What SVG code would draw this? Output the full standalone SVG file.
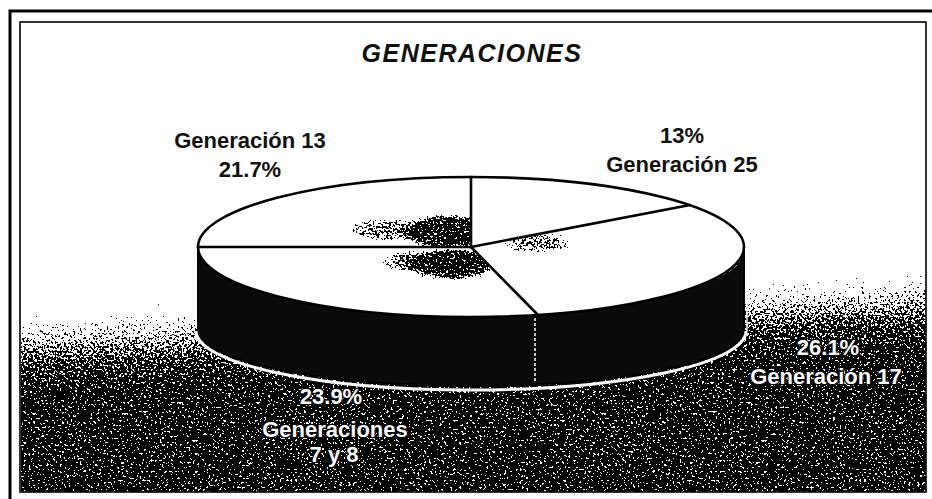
<svg xmlns="http://www.w3.org/2000/svg" width="932" height="499" viewBox="0 0 932 499">
  <style>
    .lbl { font-family: "Liberation Sans", Arial, sans-serif; font-weight: bold; font-size: 22px; text-anchor: middle; }
    .dark { fill: #111111; }
    .light { fill: #ffffff; stroke: #000000; stroke-width: 2.4px; paint-order: stroke; stroke-linejoin: round; }
    .title { font-family: "Liberation Sans", Arial, sans-serif; font-weight: bold; font-style: italic; font-size: 25px; letter-spacing: 1.5px; text-anchor: middle; fill: #111111; }
    .edge { fill: none; stroke: #000000; stroke-width: 2.6; stroke-linecap: round; }
  </style>
  <defs>
    <filter id="dither" filterUnits="userSpaceOnUse" x="0" y="0" width="932" height="499" color-interpolation-filters="sRGB">
      <feTurbulence type="fractalNoise" baseFrequency="0.45" numOctaves="2" seed="7" result="noise"/>
      <feColorMatrix in="noise" type="matrix" values="0 0 0 0 0  0 0 0 0 0  0 0 0 0 0  1 0 0 0 0" result="na"/>
      <feComposite in="SourceAlpha" in2="na" operator="arithmetic" k1="0" k2="1.75" k3="3" k4="-2.3" result="m"/>
      <feComponentTransfer in="m">
        <feFuncA type="discrete" tableValues="0 1"/>
      </feComponentTransfer>
    </filter>
    <linearGradient id="bgGrad" gradientUnits="userSpaceOnUse" x1="466" y1="256" x2="474" y2="426">
      <stop offset="0" stop-color="#000" stop-opacity="0"/>
      <stop offset="0.18" stop-color="#000" stop-opacity="0.05"/>
      <stop offset="0.3" stop-color="#000" stop-opacity="0.4"/>
      <stop offset="0.4" stop-color="#000" stop-opacity="0.65"/>
      <stop offset="0.52" stop-color="#000" stop-opacity="0.88"/>
      <stop offset="0.7" stop-color="#000" stop-opacity="1"/>
      <stop offset="1" stop-color="#000" stop-opacity="1"/>
    </linearGradient>
    <radialGradient id="patch" cx="0.5" cy="0.5" r="0.5">
      <stop offset="0" stop-color="#000" stop-opacity="1"/>
      <stop offset="0.7" stop-color="#000" stop-opacity="0.95"/>
      <stop offset="1" stop-color="#000" stop-opacity="0"/>
    </radialGradient>
    <radialGradient id="patchLight" cx="0.5" cy="0.5" r="0.5">
      <stop offset="0" stop-color="#000" stop-opacity="0.8"/>
      <stop offset="0.6" stop-color="#000" stop-opacity="0.6"/>
      <stop offset="1" stop-color="#000" stop-opacity="0"/>
    </radialGradient>
    <clipPath id="clipA"><polygon points="198,170 471,170 471,247 198,247"/></clipPath>
    <clipPath id="clipB"><polygon points="198,247 471,247 538,315 198,315"/></clipPath>
    <clipPath id="clipC"><polygon points="471,247 690,205 744,247 744,320 538,315"/></clipPath>
  </defs>

  <rect x="0" y="0" width="932" height="499" fill="#ffffff"/>

  <g id="background" filter="url(#dither)">
    <rect x="21" y="23" width="905" height="469" fill="url(#bgGrad)"/>
  </g>

  <g id="pie">
    <g id="side">
      <path d="M198,247 L198,330 A273,56 0 0 0 744,330 L744,247 A273,70 0 0 1 198,247 Z" fill="#0a0a0a" stroke="#000" stroke-width="2"/>
      <path d="M196,331 A275,59 0 0 0 746,331" fill="none" stroke="#ffffff" stroke-width="3"/>
      <path d="M747,250 L747,331" fill="none" stroke="#ffffff" stroke-width="1.5"/>
      <path d="M205,262 A273,66 0 0 0 740,262" fill="none" stroke="#ffffff" stroke-width="1" stroke-dasharray="4 3" opacity="0.7"/>
      <line x1="535" y1="318" x2="535" y2="383" stroke="#ffffff" stroke-width="1.5" stroke-dasharray="3 2"/>
    </g>
    <g id="top">
      <ellipse cx="471" cy="247" rx="273" ry="70" fill="#ffffff"/>
      <g id="shading" filter="url(#dither)">
        <g clip-path="url(#clipA)">
          <ellipse cx="448" cy="232" rx="52" ry="20" fill="url(#patch)"/>
          <ellipse cx="385" cy="230" rx="45" ry="15" fill="url(#patchLight)"/>
        </g>
        <g clip-path="url(#clipB)">
          <ellipse cx="452" cy="264" rx="50" ry="18" fill="url(#patch)"/>
          <ellipse cx="405" cy="262" rx="30" ry="14" fill="url(#patchLight)"/>
        </g>
        <g clip-path="url(#clipC)">
          <ellipse cx="537" cy="243" rx="45" ry="13" fill="url(#patchLight)"/>
        </g>
      </g>
      <ellipse cx="471" cy="247" rx="273" ry="70" class="edge"/>
    </g>
    <g id="slices">
      <path id="slice-gen25" d="M471,247 L471,177" class="edge"/>
      <path id="slice-gen17" d="M471,247 L690,205" class="edge"/>
      <path id="slice-gen78" d="M471,247 L538,315" class="edge"/>
      <path id="slice-gen13" d="M471,247 L198,247" class="edge"/>
    </g>
  </g>

  <g id="labels">
    <text class="title" x="472" y="62">GENERACIONES</text>
    <g id="label-gen13">
      <text class="lbl dark" x="250" y="148">Generación 13</text>
      <text class="lbl dark" x="250" y="177">21.7%</text>
    </g>
    <g id="label-gen25">
      <text class="lbl dark" x="682" y="143">13%</text>
      <text class="lbl dark" x="682" y="172">Generación 25</text>
    </g>
    <g id="label-gen17">
      <text class="lbl light" x="828" y="355">26.1%</text>
      <text class="lbl light" x="826" y="384">Generación 17</text>
    </g>
    <g id="label-gen78">
      <text class="lbl light" x="331" y="404">23.9%</text>
      <text class="lbl light" x="335" y="437">Generaciones</text>
      <text class="lbl light" x="334" y="462">7 y 8</text>
    </g>
  </g>

  <g id="frame" fill="none" stroke="#000">
    <path d="M10,499 L10,11 L932,11" stroke-width="3"/>
    <rect x="20" y="22" width="906" height="470" stroke-width="1.6"/>
  </g>
</svg>
